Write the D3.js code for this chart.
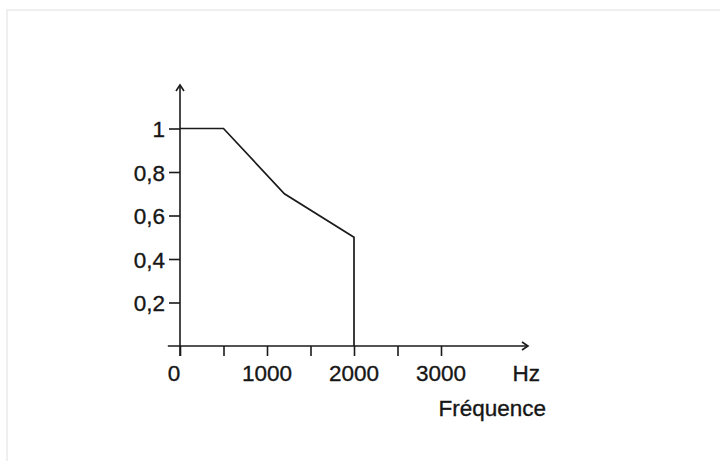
<!DOCTYPE html>
<html>
<head>
<meta charset="utf-8">
<script src="https://cdn.jsdelivr.net/npm/d3@7"></script>
<style>
    body { margin: 0; background: #fff; }
    svg text { font-family: 'Liberation Sans', Arial, sans-serif; fill: #161616; stroke: #161616; stroke-width: 0.35px; }
</style>
</head>
<body>
<svg id="chart" width="720" height="461"></svg>
<script>
// frequency response
let freq = [0, 500, 1200, 2000, 2000]
let gain = [1, 1, 0.7, 0.5, 0]
let yTicks = [0.2, 0.4, 0.6, 0.8, 1]
let xTicks = [0, 500, 1000, 1500, 2000, 2500, 3000]
let xLabels = [0, 1000, 2000, 3000]

function main() {
    let svg = d3.select('#chart'),
        ink = '#1a1a1a',
        fs = 22.5

    // faint frame of the scanned page
    svg.append('path')
        .attr('d', 'M7,461 V10 H720')
        .attr('fill', 'none')
        .attr('stroke', '#efefef')
        .attr('stroke-width', 2)

    let x = d3.scaleLinear().domain([0, 4000]).range([180, 528]),
        y = d3.scaleLinear().domain([0, 1.2]).range([346, 85])

    // y axis with ticks to the left
    let yAxis = svg.append('g')
        .attr('transform', 'translate(' + x(0) + ',0)')
        .call(d3.axisLeft(y).tickValues(yTicks).tickSize(11).tickPadding(4)
            .tickFormat(d => d === 1 ? '1' : d3.format('.1f')(d).replace('.', ',')))
    yAxis.select('.domain').remove()
    yAxis.selectAll('line').attr('stroke', ink).attr('stroke-width', 1.6)
    yAxis.selectAll('text').attr('font-size', fs).attr('dy', '0.36em')
        .attr('font-family', "'Liberation Sans', Arial, sans-serif")

    // x axis ticks downwards
    let xAxis = svg.append('g')
        .attr('transform', 'translate(0,' + y(0) + ')')
        .call(d3.axisBottom(x).tickValues(xTicks).tickSize(10).tickFormat(''))
    xAxis.select('.domain').remove()
    xAxis.selectAll('line').attr('stroke', ink).attr('stroke-width', 1.6)

    svg.append('g').selectAll('text')
        .data(xLabels)
        .enter()
        .append('text')
        .attr('x', d => x(d) - (d === 0 ? 6 : 0))
        .attr('y', 381)
        .attr('text-anchor', 'middle')
        .attr('font-size', fs)
        .text(d => d)

    // axis lines with open arrow heads
    svg.append('line')
        .attr('x1', x(-140)).attr('x2', x(4000))
        .attr('y1', y(0)).attr('y2', y(0))
        .attr('stroke', ink).attr('stroke-width', 1.6)
    svg.append('path')
        .attr('d', 'M' + (x(4000) - 6) + ',' + (y(0) - 4) + ' L' + x(4000) + ',' + y(0) + ' L' + (x(4000) - 6) + ',' + (y(0) + 4))
        .attr('fill', 'none').attr('stroke', ink).attr('stroke-width', 1.6)

    svg.append('line')
        .attr('x1', x(0)).attr('x2', x(0))
        .attr('y1', y(0) + 10).attr('y2', y(1.2))
        .attr('stroke', ink).attr('stroke-width', 1.6)
    svg.append('path')
        .attr('d', 'M' + (x(0) - 4) + ',' + (y(1.2) + 6) + ' L' + x(0) + ',' + y(1.2) + ' L' + (x(0) + 4) + ',' + (y(1.2) + 6))
        .attr('fill', 'none').attr('stroke', ink).attr('stroke-width', 1.6)

    // the curve
    let line = d3.line()
        .x((d, i) => x(freq[i]))
        .y((d, i) => y(gain[i]))
    svg.append('path')
        .datum(freq)
        .attr('d', line)
        .attr('fill', 'none')
        .attr('stroke', ink)
        .attr('stroke-width', 1.7)
        .attr('stroke-linejoin', 'miter')

    // unit and axis title
    svg.append('text')
        .attr('x', 540).attr('y', 381)
        .attr('text-anchor', 'end')
        .attr('font-size', fs)
        .text('Hz')
    svg.append('text')
        .attr('x', 546).attr('y', 416)
        .attr('text-anchor', 'end')
        .attr('font-size', fs)
        .text('Fréquence')
}

main()
</script>
</body>
</html>
